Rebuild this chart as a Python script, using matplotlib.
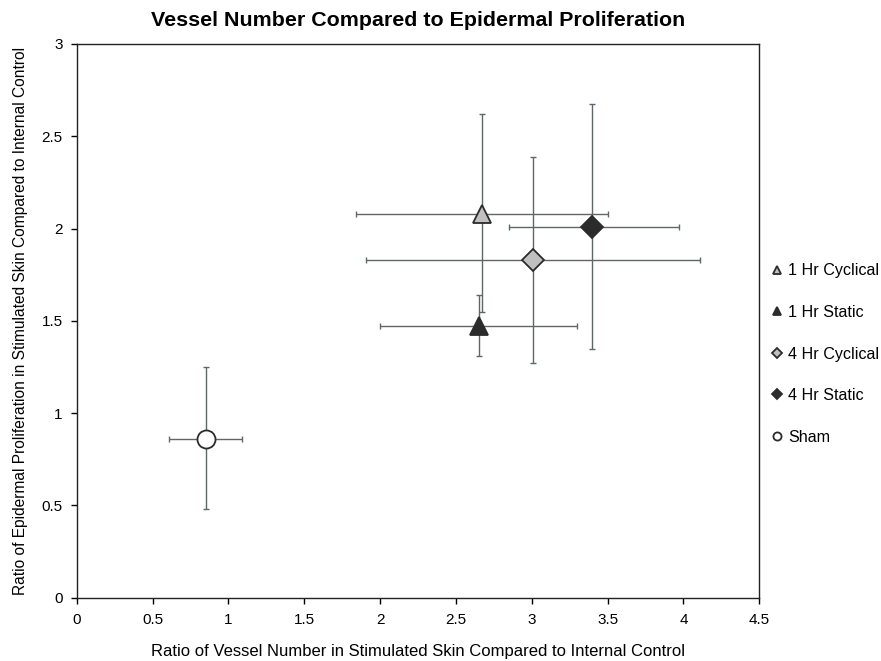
import matplotlib
matplotlib.use("Agg")
import matplotlib.pyplot as plt

plt.rcParams['font.family'] = ['Liberation Sans', 'DejaVu Sans']

# Group data
groups = ['1 Hr Cyclical', '1 Hr Static', '4 Hr Cyclical', '4 Hr Static', 'Sham']
vessel = [2.67, 2.65, 3.01, 3.40, 0.85]
vessel_lo = [1.84, 2.00, 1.91, 2.85, 0.61]
vessel_hi = [3.50, 3.30, 4.11, 3.97, 1.09]
prolif = [2.08, 1.47, 1.83, 2.01, 0.86]
prolif_lo = [1.55, 1.31, 1.27, 1.35, 0.48]
prolif_hi = [2.62, 1.64, 2.39, 2.675, 1.25]

markers = ['^', '^', 'D', 'D', 'o']
faces = ['#c0c0c0', '#2b2b2b', '#c0c0c0', '#2b2b2b', 'white']
sizes = [13, 13, 11, 11, 13]

fig = plt.figure(figsize=(8.81, 6.61), dpi=100)
ax = fig.add_axes([0.0871, 0.0958, 0.7748, 0.8377])

err_color = '#5f6869'
for i, g in enumerate(groups):
    xerr = [[vessel[i] - vessel_lo[i]], [vessel_hi[i] - vessel[i]]]
    yerr = [[prolif[i] - prolif_lo[i]], [prolif_hi[i] - prolif[i]]]
    ax.errorbar([vessel[i]], [prolif[i]], xerr=xerr, yerr=yerr, fmt='none',
                ecolor=err_color, elinewidth=1.0, capsize=2.5, capthick=1.0, zorder=2)
    ax.plot([vessel[i]], [prolif[i]], linestyle='none', marker=markers[i],
            markersize=sizes[i], markerfacecolor=faces[i], markeredgecolor='#2b2b2b',
            markeredgewidth=1.3, label=g, zorder=3)

ax.set_xlim(0, 4.5)
ax.set_ylim(0, 3)
ax.set_xticks([0, 0.5, 1, 1.5, 2, 2.5, 3, 3.5, 4, 4.5])
ax.set_xticklabels(['0', '0.5', '1', '1.5', '2', '2.5', '3', '3.5', '4', '4.5'])
ax.set_yticks([0, 0.5, 1, 1.5, 2, 2.5, 3])
ax.set_yticklabels(['0', '0.5', '1', '1.5', '2', '2.5', '3'])
ax.tick_params(direction='out', length=4, width=1, labelsize=11)
ax.tick_params(axis='x', pad=7)
ax.tick_params(axis='y', pad=6)
for s in ax.spines.values():
    s.set_linewidth(1.0)
    s.set_color('#222222')

ax.set_xlabel('Ratio of Vessel Number in Stimulated Skin Compared to Internal Control',
              fontsize=12, labelpad=12)
ax.set_ylabel('Ratio of Epidermal Proliferation in Stimulated Skin Compared to Internal Control',
              fontsize=11.2, labelpad=10)
ax.set_title('Vessel Number Compared to Epidermal Proliferation',
             fontsize=15.4, fontweight='bold', pad=13)

leg = ax.legend(loc='center left', bbox_to_anchor=(1.0, 0.44), frameon=False,
                markerscale=0.45, handlelength=0.6, handletextpad=0.4,
                labelspacing=1.65, fontsize=11.6, borderaxespad=0.4)

fig.savefig('out.png', dpi=100)
